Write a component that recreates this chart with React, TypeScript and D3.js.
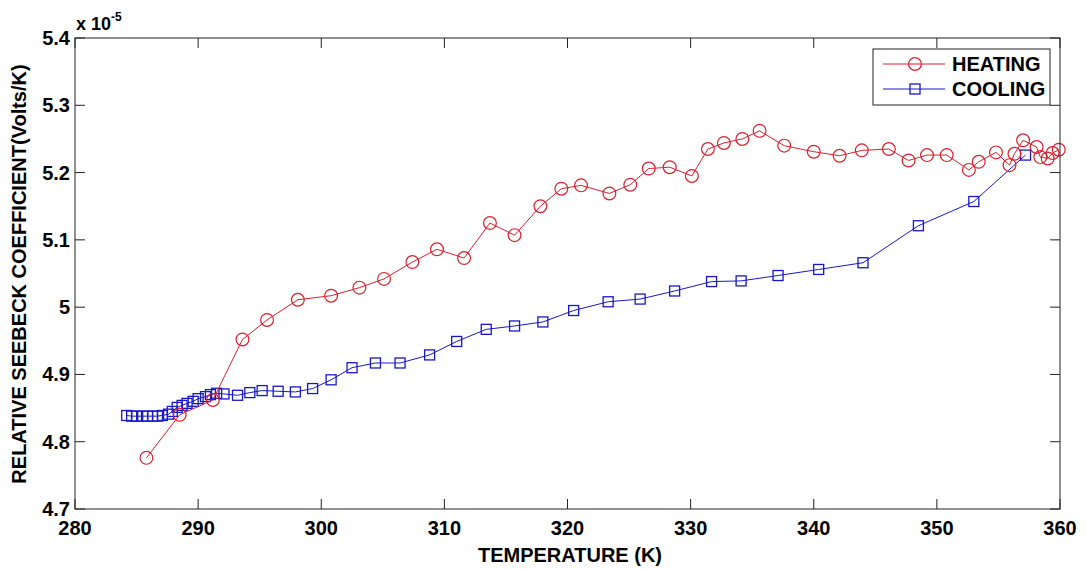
import React from "react";
import * as d3 from "d3";

const heatingT = [285.8, 288.5, 291.2, 293.6, 295.6, 298.1, 300.8, 303.1, 305.1, 307.4, 309.4, 311.6, 313.7, 315.7, 317.8, 319.5, 321.1, 323.4, 325.1, 326.6, 328.3, 330.1, 331.4, 332.7, 334.2, 335.6, 337.6, 340.0, 342.1, 343.9, 346.1, 347.7, 349.2, 350.8, 352.6, 353.4, 354.8, 355.9, 356.3, 357.0, 358.1, 358.4, 359.0, 359.4, 359.9];
const heatingS = [4.776, 4.840, 4.862, 4.952, 4.981, 5.011, 5.017, 5.029, 5.042, 5.067, 5.086, 5.073, 5.125, 5.107, 5.150, 5.176, 5.181, 5.169, 5.182, 5.206, 5.208, 5.195, 5.235, 5.244, 5.250, 5.262, 5.240, 5.231, 5.225, 5.233, 5.235, 5.218, 5.226, 5.226, 5.204, 5.216, 5.230, 5.211, 5.228, 5.248, 5.238, 5.223, 5.221, 5.229, 5.234];

const coolingT = [284.2, 284.6, 285.0, 285.5, 285.9, 286.3, 286.7, 287.1, 287.6, 287.9, 288.3, 288.7, 289.1, 289.6, 290.0, 290.6, 291.0, 291.5, 292.1, 293.2, 294.2, 295.2, 296.5, 297.9, 299.3, 300.8, 302.5, 304.4, 306.4, 308.8, 311.0, 313.4, 315.7, 318.0, 320.5, 323.3, 325.9, 328.7, 331.7, 334.1, 337.1, 340.4, 344.0, 348.5, 353.0, 357.2];
const coolingS = [4.839, 4.838, 4.838, 4.838, 4.838, 4.838, 4.838, 4.839, 4.841, 4.845, 4.851, 4.854, 4.857, 4.860, 4.864, 4.867, 4.870, 4.872, 4.871, 4.869, 4.873, 4.876, 4.875, 4.874, 4.879, 4.892, 4.910, 4.917, 4.917, 4.929, 4.949, 4.967, 4.972, 4.978, 4.995, 5.008, 5.012, 5.024, 5.038, 5.039, 5.047, 5.056, 5.066, 5.121, 5.157, 5.226];

const xTicks = [280, 290, 300, 310, 320, 330, 340, 350, 360];
const yTicks = [4.7, 4.8, 4.9, 5.0, 5.1, 5.2, 5.3, 5.4];
const yTickLabels = ["4.7", "4.8", "4.9", "5", "5.1", "5.2", "5.3", "5.4"];
const seriesNames = ["HEATING", "COOLING"];

const RED = "#dc1f2e";
const BLUE = "#1818c8";
const FONT = "'Liberation Sans', Arial, sans-serif";

export default function App() {
  const left = 75, right = 1060, top = 38, bottom = 509;
  const x = d3.scaleLinear().domain([280, 360]).range([left, right]);
  const y = d3.scaleLinear().domain([4.7, 5.4]).range([bottom, top]);
  const line = d3.line<[number, number]>().x(d => x(d[0])).y(d => y(d[1]));
  const heat: [number, number][] = heatingT.map((t, i) => [t, heatingS[i]]);
  const cool: [number, number][] = coolingT.map((t, i) => [t, coolingS[i]]);
  const tl = 10;
  const axisColor = "#222";
  const fs = 20;

  return (
    <svg width={1086} height={569} style={{ position: "absolute", left: 0, top: 0, background: "#fff" }} fontFamily={FONT}>
      <rect x={0} y={0} width={1086} height={569} fill="#fff" />
      <path d={line(cool) || ""} fill="none" stroke={BLUE} strokeWidth={1} />
      {cool.map((d, i) => (
        <rect key={"c" + i} x={x(d[0]) - 5} y={y(d[1]) - 5} width={10} height={10} fill="none" stroke={BLUE} strokeWidth={1.3} />
      ))}
      <path d={line(heat) || ""} fill="none" stroke={RED} strokeWidth={1} />
      {heat.map((d, i) => (
        <circle key={"h" + i} cx={x(d[0])} cy={y(d[1])} r={6.4} fill="none" stroke={RED} strokeWidth={1.2} />
      ))}
      <rect x={left} y={top} width={right - left} height={bottom - top} fill="none" stroke={axisColor} strokeWidth={1} />
      {xTicks.map(t => (
        <g key={"xt" + t}>
          <line x1={x(t)} x2={x(t)} y1={bottom} y2={bottom - tl} stroke={axisColor} />
          <line x1={x(t)} x2={x(t)} y1={top} y2={top + tl} stroke={axisColor} />
          <text x={x(t)} y={535} textAnchor="middle" fontSize={fs} fontWeight="bold" fill="#000">{t}</text>
        </g>
      ))}
      {yTicks.map((t, i) => (
        <g key={"yt" + t}>
          <line x1={left} x2={left + tl} y1={y(t)} y2={y(t)} stroke={axisColor} />
          <line x1={right} x2={right - tl} y1={y(t)} y2={y(t)} stroke={axisColor} />
          <text x={70} y={y(t) + 7} textAnchor="end" fontSize={fs} fontWeight="bold" fill="#000">{yTickLabels[i]}</text>
        </g>
      ))}
      <text x={76} y={30} fontSize={18} fontWeight="bold" fill="#000">x 10</text>
      <text x={111} y={21} fontSize={12} fontWeight="bold" fill="#000">-5</text>
      <text x={570} y={562} textAnchor="middle" fontSize={fs} fontWeight="bold" fill="#000">TEMPERATURE (K)</text>
      <text transform="translate(26,274) rotate(-90)" textAnchor="middle" fontSize={fs} fontWeight="bold" fill="#000">RELATIVE SEEBECK COEFFICIENT(Volts/K)</text>
      <rect x={873} y={49} width={177} height={56} fill="#fff" stroke={axisColor} strokeWidth={1} />
      <line x1={883} x2={945} y1={64} y2={64} stroke={RED} />
      <circle cx={915} cy={64} r={6.4} fill="none" stroke={RED} strokeWidth={1.2} />
      <text x={952} y={71} fontSize={fs} fontWeight="bold" fill="#000">{seriesNames[0]}</text>
      <line x1={883} x2={945} y1={89} y2={89} stroke={BLUE} />
      <rect x={910} y={84} width={10} height={10} fill="none" stroke={BLUE} strokeWidth={1.3} />
      <text x={952} y={96} fontSize={fs} fontWeight="bold" fill="#000">{seriesNames[1]}</text>
    </svg>
  );
}
